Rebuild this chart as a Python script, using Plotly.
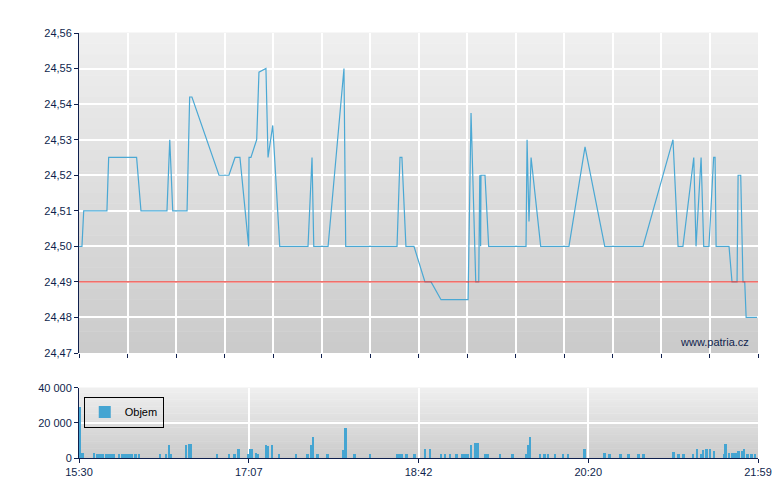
import plotly.graph_objects as go

# price line: minutes after 15:30, price
price_min = [0, 1.7, 2.7, 16, 17, 33, 35.5, 50.4, 52, 53.7, 61.9, 63.4, 64.7, 80.2, 85.9, 89.4,
             92.2, 97.2, 97.4, 98.5, 101.8, 103.1, 107.1, 108.3, 111, 115, 131.2, 133.5, 134.5,
             142.7, 151.8, 152.8, 182.2, 183.9, 185, 187.3, 191.9, 198.2, 201.7, 207.4, 222.9,
             224.6, 227.3, 229, 229.6, 230.1, 230.3, 232.6, 234.7, 256.1, 256.7, 257.8, 259,
             264.5, 280.7, 289.9, 301.2, 323.1, 340.3, 343.2, 346, 352.2, 353.5, 356.4, 357.9,
             360.9, 363.6, 364.4, 365, 372.4, 374.1, 377, 377.6, 379.1, 380.4, 381.4, 382.2, 388.5]
price = [24.50, 24.50, 24.51, 24.51, 24.525, 24.525, 24.51, 24.51, 24.53, 24.51, 24.51, 24.542,
         24.542, 24.52, 24.52, 24.525, 24.525, 24.50, 24.525, 24.525, 24.53, 24.549, 24.55,
         24.525, 24.534, 24.50, 24.50, 24.525, 24.50, 24.50, 24.55, 24.50, 24.50, 24.525,
         24.525, 24.50, 24.50, 24.49, 24.49, 24.485, 24.485, 24.5375, 24.49, 24.49, 24.52,
         24.50, 24.52, 24.52, 24.50, 24.50, 24.53, 24.507, 24.525, 24.50, 24.50, 24.528,
         24.50, 24.50, 24.53, 24.50, 24.50, 24.525, 24.50, 24.525, 24.50, 24.50, 24.525,
         24.525, 24.50, 24.50, 24.49, 24.49, 24.52, 24.52, 24.49, 24.49, 24.48, 24.48]

prev_close = 24.49

# volume bars
vol_min = [0.3, 2, 8.6, 10.6, 12, 13.4, 15.7, 17.1, 18.6, 20, 22.8, 24.8, 26.3, 27.7, 29.1, 30.5,
           32.3, 34.5, 46.5, 49.9, 51.7, 52.8, 61.4, 63.1, 64.2, 79.1, 85.9, 89, 91.3, 96.8,
           97.9, 99, 101.3, 102.7, 107, 108.2, 110.5, 114.5, 124.2, 131, 133.3, 133.9, 136.7,
           142.4, 151.5, 152.7, 157.8, 166.7, 182.1, 183.5, 184.9, 187.5, 192.1, 198.3, 201.2,
           207.5, 209.8, 212.6, 216.3, 219.8, 221.2, 222.6, 224.6, 226.9, 228.3, 232.6, 234,
           241.2, 248.3, 256.3, 257.4, 258.3, 264, 266.8, 268.6, 272.6, 277.4, 280, 289.7,
           301.1, 304, 310.2, 314.8, 320.5, 323.4, 340.5, 343.4, 346.2, 351.9, 353.9, 356.2,
           357.6, 359.6, 361.6, 363.9, 369.6, 370.5, 372.5, 374.3, 376, 377.7, 379.7, 381.1,
           383.1, 385.4, 387.4]
volume = [29400, 2900, 2900, 2300, 2300, 2300, 2300, 2300, 2300, 2300, 2300, 2300, 2300, 2300,
          2300, 2300, 2300, 2300, 2300, 2300, 7700, 2300, 7700, 8100, 8100, 2300, 2300, 2300,
          5200, 2300, 5200, 5200, 2900, 2300, 7700, 6800, 7700, 2300, 2300, 2300, 7700, 12200,
          2300, 2300, 4800, 17400, 2300, 2300, 2300, 2300, 2300, 2300, 2300, 5200, 5200, 2300,
          2300, 2300, 2300, 2300, 2300, 2300, 7700, 8700, 8700, 2300, 2300, 2300, 2300, 2300,
          7700, 12200, 2300, 2300, 2300, 2300, 2300, 2300, 5200, 2900, 2300, 2300, 2300, 2300,
          2300, 3500, 2300, 2300, 2300, 5200, 2300, 4400, 5200, 5200, 4250, 2300, 8100, 2900,
          2900, 2900, 4250, 4250, 5200, 2300, 2300, 2300]

x_labels = ["15:30", "17:07", "18:42", "20:20", "21:59"]
x_end = 389

navy = "#0f1f4d"
fig = go.Figure()

fig.add_trace(go.Scatter(x=price_min, y=price, mode="lines", line=dict(color="#4aa8d4", width=1.2),
                         xaxis="x", yaxis="y", showlegend=False))
fig.add_trace(go.Scatter(x=[0, x_end], y=[prev_close, prev_close], mode="lines",
                         line=dict(color="#e8403a", width=1.2), xaxis="x", yaxis="y", showlegend=False))
fig.add_trace(go.Bar(x=vol_min, y=volume, width=1.4, marker=dict(color="#45a5d2", line_width=0),
                     name="Objem", xaxis="x2", yaxis="y2"))

# gradient backgrounds via bands
shapes = []
n = 30
for dom_lo, dom_hi in [(0.247, 1.0), (0.0, 0.165)]:
    for i in range(n):
        g = int(0xcb + (0xf0 - 0xcb) * (i + 0.5) / n)
        y0 = dom_lo + (dom_hi - dom_lo) * i / n
        y1 = dom_lo + (dom_hi - dom_lo) * (i + 1) / n
        shapes.append(dict(type="rect", xref="paper", yref="paper", x0=0, x1=1, y0=y0, y1=y1 + 0.001,
                           fillcolor=f"rgb({g},{g},{g})", line_width=0, layer="below"))

tickfont = dict(family="Liberation Sans, Arial", size=11, color=navy)
fig.update_layout(
    width=780, height=490,
    margin=dict(l=71, r=30, t=25, b=40, autoexpand=False),
    paper_bgcolor="white", plot_bgcolor="rgba(0,0,0,0)",
    separators=", ",
    shapes=shapes,
    bargap=0,
    xaxis=dict(domain=[0, 1], range=[0, x_end], tick0=0, dtick=x_end / 14, showticklabels=False,
               ticks="outside", ticklen=4, tickcolor=navy, showgrid=True, gridcolor="white",
               gridwidth=1.5, zeroline=False, anchor="y", automargin=False),
    yaxis=dict(domain=[0.247, 1], range=[24.47, 24.56], dtick=0.01, tickformat=".2f",
               showgrid=True, gridcolor="white", gridwidth=1.5, zeroline=False, showline=True,
               linecolor=navy, linewidth=1, ticks="outside", ticklen=4, tickcolor=navy,
               tickfont=tickfont, anchor="x", automargin=False),
    xaxis2=dict(domain=[0, 1], range=[0, x_end], tickvals=[0, x_end / 4, x_end / 2, 3 * x_end / 4, x_end],
                ticktext=x_labels, ticks="outside", ticklen=4, tickcolor=navy, showgrid=True,
                gridcolor="white", gridwidth=1.5, zeroline=False, showline=True, linecolor=navy,
                tickfont=tickfont, anchor="y2", automargin=False),
    yaxis2=dict(domain=[0, 0.165], range=[0, 40000], tickvals=[0, 20000, 40000], tickformat=",d",
                showgrid=True, gridcolor="white", gridwidth=1.5, zeroline=False, showline=True,
                linecolor=navy, ticks="outside", ticklen=4, tickcolor=navy, tickfont=tickfont,
                anchor="x2", automargin=False),
    legend=dict(x=0.007, y=0.108, xanchor="left", yanchor="middle", bgcolor="rgba(0,0,0,0)",
                bordercolor="black", borderwidth=1, itemwidth=30,
                font=dict(family="Liberation Sans, Arial", size=11, color="black")),
    showlegend=True,
    annotations=[dict(text="www.patria.cz", xref="paper", yref="paper", x=0.99, y=0.255,
                      xanchor="right", yanchor="bottom", showarrow=False,
                      font=dict(family="Liberation Sans, Arial", size=11, color=navy))],
)

fig.write_html("out.html")
